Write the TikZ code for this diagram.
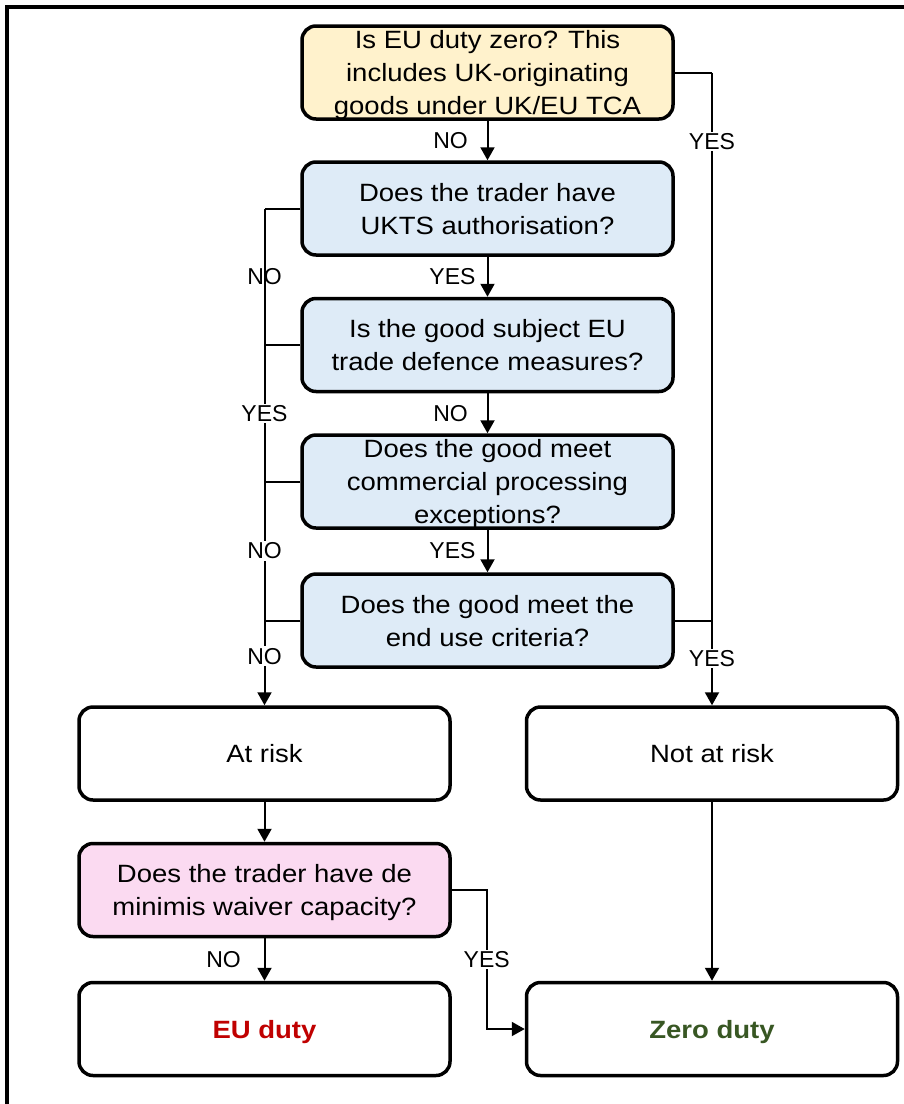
\documentclass[tikz,border=0pt]{standalone}
\usepackage{fontspec}
\setmainfont{Liberation Sans}
\newfontfamily\boxfont{Liberation Sans}[FakeStretch=1.1]
\usetikzlibrary{arrows.meta,calc,positioning}
\definecolor{qyellow}{HTML}{FFF2CC}
\definecolor{qblue}{HTML}{DEEBF7}
\definecolor{qpink}{HTML}{FBDAF1}
\definecolor{dutyred}{HTML}{C00000}
\definecolor{dutygreen}{HTML}{385723}
\tikzset{
  qbox/.style={draw,rounded corners=14pt,line width=3.5pt,minimum width=371pt,minimum height=93pt,
    align=center,inner sep=0pt,text depth=0pt,font={\boxfont\fontsize{25pt}{33pt}\selectfont}},
  ybox/.style={qbox,fill=qyellow},
  bbox/.style={qbox,fill=qblue},
  pbox/.style={qbox,fill=qpink},
  wbox/.style={qbox,fill=white},
  edge/.style={-{Triangle[length=13pt,width=14pt]},line width=2pt},
  uedge/.style={line width=2pt},
  lbl/.style={fill=white,inner sep=1.5pt,font={\fontsize{23pt}{27pt}\selectfont}},
  lbln/.style={lbl,fill=none},
  frame/.style={line width=4pt}
}

\begin{document}
\begin{tikzpicture}[x=1pt,y=-1pt]
\useasboundingbox (0,0) rectangle (904,1104);
\draw[frame] (7,1104) |- (904,7);
% questions
\node[ybox] (zero) at (487.5,72.5) {Is EU duty zero? This\\includes UK-originating\\goods under UK/EU TCA};
\node[bbox] (ukts) at (487.5,208.5) {Does the trader have\\UKTS authorisation?};
\node[bbox] (tdm) at (487.5,345) {Is the good subject EU\\trade defence measures?};
\node[bbox] (cpe) at (487.5,481.5) {Does the good meet\\commercial processing\\exceptions?};
\node[bbox] (enduse) at (487.5,620.5) {Does the good meet the\\end use criteria?};
% outcomes
\node[wbox] (risk) at (264.5,753.5) {At risk};
\node[wbox] (norisk) at (712,753.5) {Not at risk};
\node[pbox] (demin) at (264.5,890) {Does the trader have de\\minimis waiver capacity?};
\node[wbox] (euduty) at (264.5,1029) {\textcolor{dutyred}{\bfseries EU duty}};
\node[wbox] (zduty) at (712,1029) {\textcolor{dutygreen}{\bfseries Zero duty}};
% main column
\draw[edge] (zero) -- node[lbl,xshift=-37pt]{NO} (ukts);
\draw[edge] (ukts) -- node[lbl,xshift=-35pt]{YES} (tdm);
\draw[edge] (tdm) -- node[lbl,xshift=-37pt]{NO} (cpe);
\draw[edge] (cpe) -- node[lbl,xshift=-35pt]{YES} (enduse);
% left bus to at risk
\coordinate (l1) at (ukts.west -| risk.north);
\coordinate (l2) at (tdm.west -| risk.north);
\coordinate (l3) at (cpe.west -| risk.north);
\coordinate (l4) at (enduse.west -| risk.north);
\draw[uedge] (ukts.west) -- (l1);
\draw[uedge] (tdm.west) -- (l2);
\draw[uedge] (cpe.west) -- (l3);
\draw[uedge] (enduse.west) -- (l4);
\draw[uedge] (l1) -- node[lbln]{NO} (l2);
\draw[uedge] (l2) -- node[lbl]{YES} (l3);
\draw[uedge] (l3) -- node[lbl]{NO} (l4);
\draw[edge] (l4) -- node[lbl,pos=0.42]{NO} (risk.north);
% right bus to not at risk
\coordinate (r0) at (zero.east -| norisk.north);
\coordinate (r1) at (enduse.east -| norisk.north);
\draw[uedge] (zero.east) -- (r0);
\draw[uedge] (enduse.east) -- (r1);
\draw[uedge] (r0) -- node[lbl,pos=0.126]{YES} (r1);
\draw[edge] (r1) -- node[lbl,pos=0.45]{YES} (norisk.north);
% lower part
\draw[edge] (risk) -- (demin);
\draw[edge] (norisk) -- (zduty);
\draw[edge] (demin) -- node[lbl,xshift=-41pt]{NO} (euduty);
\draw[edge] (demin.east) -- ++(35,0) |- node[lbl,pos=0.25]{YES} (zduty.west);
\end{tikzpicture}
\end{document}
